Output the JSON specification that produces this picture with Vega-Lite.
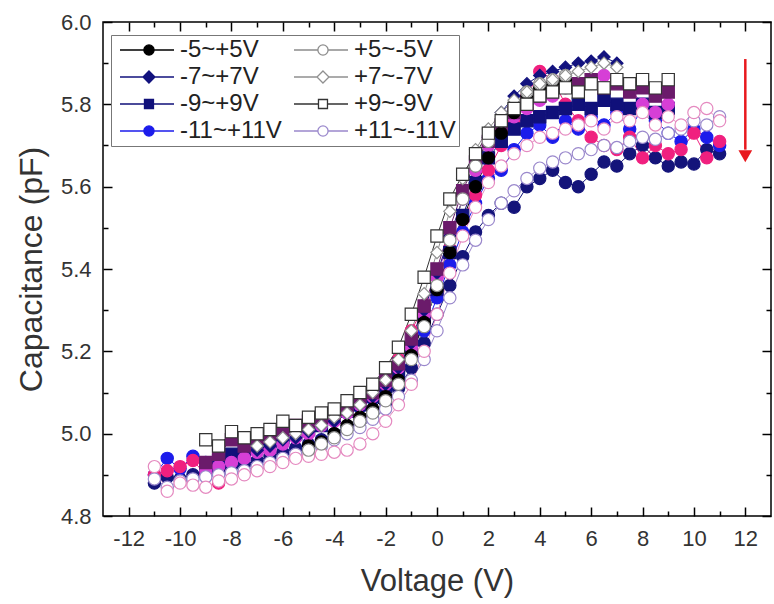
{
"$schema": "https://vega.github.io/schema/vega-lite/v6.json",
"width": 668, "height": 494,
"autosize": {"type": "none"},
"padding": {"left": 103, "top": 22, "right": 3, "bottom": 88},
"background": "white",
"config": {
  "view": {"stroke": "#000", "strokeWidth": 1.5},
  "font": "Liberation Sans",
  "axis": {"labelFont": "Liberation Sans", "labelFontSize": 22, "labelColor": "#333", "titleFont": "Liberation Sans", "titleFontSize": 31, "titleFontWeight": "normal", "titleColor": "#333", "tickColor": "#000", "tickWidth": 1.5, "domain": false, "grid": false},
  "legend": {"orient": "none", "legendX": 8, "legendY": 13, "direction": "horizontal", "columns": 2, "gridAlign": "none", "columnPadding": 6, "rowPadding": 3, "padding": 3, "strokeColor": "#777", "fillColor": "white", "labelFont": "Liberation Sans", "labelFontSize": 24, "labelColor": "#222", "labelOffset": 42, "symbolSize": 144, "symbolStrokeWidth": 1.3}
},
"datasets": {
  "cv": [
{"s":"x1","v":-11,"c":4.88},{"s":"x1","v":-10.5,"c":4.895},{"s":"x1","v":-10,"c":4.89},{"s":"x1","v":-9.5,"c":4.9},{"s":"x1","v":-9,"c":4.905},{"s":"x1","v":-8.5,"c":4.91},{"s":"x1","v":-8,"c":4.92},{"s":"x1","v":-7.5,"c":4.925},{"s":"x1","v":-7,"c":4.935},{"s":"x1","v":-6.5,"c":4.945},{"s":"x1","v":-6,"c":4.955},{"s":"x1","v":-5.5,"c":4.965},{"s":"x1","v":-5,"c":4.975},{"s":"x1","v":-4.5,"c":4.985},{"s":"x1","v":-4,"c":5.0},{"s":"x1","v":-3.5,"c":5.015},{"s":"x1","v":-3,"c":5.03},{"s":"x1","v":-2.5,"c":5.05},{"s":"x1","v":-2,"c":5.075},{"s":"x1","v":-1.5,"c":5.11},{"s":"x1","v":-1,"c":5.16},{"s":"x1","v":-0.5,"c":5.22},{"s":"x1","v":0,"c":5.29},{"s":"x1","v":0.5,"c":5.36},{"s":"x1","v":1,"c":5.43},{"s":"x1","v":1.5,"c":5.49},{"s":"x1","v":2,"c":5.53},{"s":"x1","v":2.5,"c":5.56},{"s":"x1","v":3,"c":5.55},{"s":"x1","v":3.5,"c":5.6},{"s":"x1","v":4,"c":5.62},{"s":"x1","v":4.5,"c":5.64},{"s":"x1","v":5,"c":5.61},{"s":"x1","v":5.5,"c":5.6},{"s":"x1","v":6,"c":5.63},{"s":"x1","v":6.5,"c":5.66},{"s":"x1","v":7,"c":5.65},{"s":"x1","v":7.5,"c":5.68},{"s":"x1","v":8,"c":5.7},{"s":"x1","v":8.5,"c":5.67},{"s":"x1","v":9,"c":5.65},{"s":"x1","v":9.5,"c":5.66},{"s":"x1","v":10,"c":5.655},{"s":"x1","v":10.5,"c":5.69},{"s":"x1","v":11,"c":5.68},
{"s":"-11~+11V","v":-11,"c":4.9},{"s":"-11~+11V","v":-10.5,"c":4.94},{"s":"-11~+11V","v":-10,"c":4.915},{"s":"-11~+11V","v":-9.5,"c":4.945},{"s":"-11~+11V","v":-9,"c":4.93},{"s":"-11~+11V","v":-8.5,"c":4.935},{"s":"-11~+11V","v":-8,"c":4.945},{"s":"-11~+11V","v":-7.5,"c":4.955},{"s":"-11~+11V","v":-7,"c":4.965},{"s":"-11~+11V","v":-6.5,"c":4.975},{"s":"-11~+11V","v":-6,"c":4.985},{"s":"-11~+11V","v":-5.5,"c":4.995},{"s":"-11~+11V","v":-5,"c":5.01},{"s":"-11~+11V","v":-4.5,"c":5.02},{"s":"-11~+11V","v":-4,"c":5.035},{"s":"-11~+11V","v":-3.5,"c":5.05},{"s":"-11~+11V","v":-3,"c":5.065},{"s":"-11~+11V","v":-2.5,"c":5.085},{"s":"-11~+11V","v":-2,"c":5.11},{"s":"-11~+11V","v":-1.5,"c":5.14},{"s":"-11~+11V","v":-1,"c":5.19},{"s":"-11~+11V","v":-0.5,"c":5.25},{"s":"-11~+11V","v":0,"c":5.33},{"s":"-11~+11V","v":0.5,"c":5.41},{"s":"-11~+11V","v":1,"c":5.49},{"s":"-11~+11V","v":1.5,"c":5.56},{"s":"-11~+11V","v":2,"c":5.62},{"s":"-11~+11V","v":2.5,"c":5.64},{"s":"-11~+11V","v":3,"c":5.69},{"s":"-11~+11V","v":3.5,"c":5.73},{"s":"-11~+11V","v":4,"c":5.75},{"s":"-11~+11V","v":4.5,"c":5.72},{"s":"-11~+11V","v":5,"c":5.76},{"s":"-11~+11V","v":5.5,"c":5.74},{"s":"-11~+11V","v":6,"c":5.77},{"s":"-11~+11V","v":6.5,"c":5.75},{"s":"-11~+11V","v":7,"c":5.78},{"s":"-11~+11V","v":7.5,"c":5.74},{"s":"-11~+11V","v":8,"c":5.79},{"s":"-11~+11V","v":8.5,"c":5.76},{"s":"-11~+11V","v":9,"c":5.73},{"s":"-11~+11V","v":9.5,"c":5.71},{"s":"-11~+11V","v":10,"c":5.74},{"s":"-11~+11V","v":10.5,"c":5.72},{"s":"-11~+11V","v":11,"c":5.7},
{"s":"x2","v":-11,"c":4.9},{"s":"x2","v":-10.5,"c":4.91},{"s":"x2","v":-10,"c":4.92},{"s":"x2","v":-9.5,"c":4.935},{"s":"x2","v":-9,"c":4.9},{"s":"x2","v":-8.5,"c":4.88},{"s":"x2","v":-8,"c":4.94},{"s":"x2","v":-7.5,"c":4.95},{"s":"x2","v":-7,"c":4.96},{"s":"x2","v":-6.5,"c":4.975},{"s":"x2","v":-6,"c":4.99},{"s":"x2","v":-5.5,"c":5.0},{"s":"x2","v":-5,"c":5.015},{"s":"x2","v":-4.5,"c":5.025},{"s":"x2","v":-4,"c":5.04},{"s":"x2","v":-3.5,"c":5.06},{"s":"x2","v":-3,"c":5.075},{"s":"x2","v":-2.5,"c":5.1},{"s":"x2","v":-2,"c":5.13},{"s":"x2","v":-1.5,"c":5.18},{"s":"x2","v":-1,"c":5.25},{"s":"x2","v":-0.5,"c":5.31},{"s":"x2","v":0,"c":5.38},{"s":"x2","v":0.5,"c":5.45},{"s":"x2","v":1,"c":5.52},{"s":"x2","v":1.5,"c":5.58},{"s":"x2","v":2,"c":5.64},{"s":"x2","v":2.5,"c":5.7},{"s":"x2","v":3,"c":5.76},{"s":"x2","v":3.5,"c":5.82},{"s":"x2","v":4,"c":5.88},{"s":"x2","v":4.5,"c":5.86},{"s":"x2","v":5,"c":5.8},{"s":"x2","v":5.5,"c":5.76},{"s":"x2","v":6,"c":5.72},{"s":"x2","v":6.5,"c":5.7},{"s":"x2","v":7,"c":5.69},{"s":"x2","v":7.5,"c":5.72},{"s":"x2","v":8,"c":5.67},{"s":"x2","v":8.5,"c":5.7},{"s":"x2","v":9,"c":5.68},{"s":"x2","v":9.5,"c":5.69},{"s":"x2","v":10,"c":5.73},{"s":"x2","v":10.5,"c":5.67},{"s":"x2","v":11,"c":5.71},
{"s":"-9~+9V","v":-9,"c":4.92},{"s":"-9~+9V","v":-8.5,"c":4.935},{"s":"-9~+9V","v":-8,"c":4.95},{"s":"-9~+9V","v":-7.5,"c":4.96},{"s":"-9~+9V","v":-7,"c":4.97},{"s":"-9~+9V","v":-6.5,"c":4.98},{"s":"-9~+9V","v":-6,"c":4.99},{"s":"-9~+9V","v":-5.5,"c":5.0},{"s":"-9~+9V","v":-5,"c":5.01},{"s":"-9~+9V","v":-4.5,"c":5.02},{"s":"-9~+9V","v":-4,"c":5.04},{"s":"-9~+9V","v":-3.5,"c":5.055},{"s":"-9~+9V","v":-3,"c":5.07},{"s":"-9~+9V","v":-2.5,"c":5.09},{"s":"-9~+9V","v":-2,"c":5.115},{"s":"-9~+9V","v":-1.5,"c":5.15},{"s":"-9~+9V","v":-1,"c":5.2},{"s":"-9~+9V","v":-0.5,"c":5.27},{"s":"-9~+9V","v":0,"c":5.35},{"s":"-9~+9V","v":0.5,"c":5.44},{"s":"-9~+9V","v":1,"c":5.53},{"s":"-9~+9V","v":1.5,"c":5.61},{"s":"-9~+9V","v":2,"c":5.67},{"s":"-9~+9V","v":2.5,"c":5.71},{"s":"-9~+9V","v":3,"c":5.74},{"s":"-9~+9V","v":3.5,"c":5.76},{"s":"-9~+9V","v":4,"c":5.77},{"s":"-9~+9V","v":4.5,"c":5.78},{"s":"-9~+9V","v":5,"c":5.79},{"s":"-9~+9V","v":5.5,"c":5.8},{"s":"-9~+9V","v":6,"c":5.79},{"s":"-9~+9V","v":6.5,"c":5.81},{"s":"-9~+9V","v":7,"c":5.8},{"s":"-9~+9V","v":7.5,"c":5.79},{"s":"-9~+9V","v":8,"c":5.8},{"s":"-9~+9V","v":8.5,"c":5.78},{"s":"-9~+9V","v":9,"c":5.79},
{"s":"x3","v":-9,"c":4.91},{"s":"x3","v":-8.5,"c":4.92},{"s":"x3","v":-8,"c":4.93},{"s":"x3","v":-7.5,"c":4.94},{"s":"x3","v":-7,"c":4.955},{"s":"x3","v":-6.5,"c":4.96},{"s":"x3","v":-6,"c":4.975},{"s":"x3","v":-5.5,"c":4.99},{"s":"x3","v":-5,"c":5.0},{"s":"x3","v":-4.5,"c":5.02},{"s":"x3","v":-4,"c":5.03},{"s":"x3","v":-3.5,"c":5.05},{"s":"x3","v":-3,"c":5.07},{"s":"x3","v":-2.5,"c":5.09},{"s":"x3","v":-2,"c":5.12},{"s":"x3","v":-1.5,"c":5.16},{"s":"x3","v":-1,"c":5.21},{"s":"x3","v":-0.5,"c":5.29},{"s":"x3","v":0,"c":5.38},{"s":"x3","v":0.5,"c":5.48},{"s":"x3","v":1,"c":5.57},{"s":"x3","v":1.5,"c":5.64},{"s":"x3","v":2,"c":5.7},{"s":"x3","v":2.5,"c":5.74},{"s":"x3","v":3,"c":5.77},{"s":"x3","v":3.5,"c":5.79},{"s":"x3","v":4,"c":5.81},{"s":"x3","v":4.5,"c":5.82},{"s":"x3","v":5,"c":5.84},{"s":"x3","v":5.5,"c":5.85},{"s":"x3","v":6,"c":5.86},{"s":"x3","v":6.5,"c":5.87},{"s":"x3","v":7,"c":5.86},{"s":"x3","v":7.5,"c":5.84},{"s":"x3","v":8,"c":5.8},{"s":"x3","v":8.5,"c":5.78},{"s":"x3","v":9,"c":5.8},
{"s":"-7~+7V","v":-7,"c":4.96},{"s":"-7~+7V","v":-6.5,"c":4.97},{"s":"-7~+7V","v":-6,"c":4.985},{"s":"-7~+7V","v":-5.5,"c":4.99},{"s":"-7~+7V","v":-5,"c":5.005},{"s":"-7~+7V","v":-4.5,"c":5.02},{"s":"-7~+7V","v":-4,"c":5.03},{"s":"-7~+7V","v":-3.5,"c":5.05},{"s":"-7~+7V","v":-3,"c":5.07},{"s":"-7~+7V","v":-2.5,"c":5.09},{"s":"-7~+7V","v":-2,"c":5.12},{"s":"-7~+7V","v":-1.5,"c":5.16},{"s":"-7~+7V","v":-1,"c":5.22},{"s":"-7~+7V","v":-0.5,"c":5.3},{"s":"-7~+7V","v":0,"c":5.39},{"s":"-7~+7V","v":0.5,"c":5.48},{"s":"-7~+7V","v":1,"c":5.57},{"s":"-7~+7V","v":1.5,"c":5.65},{"s":"-7~+7V","v":2,"c":5.72},{"s":"-7~+7V","v":2.5,"c":5.78},{"s":"-7~+7V","v":3,"c":5.82},{"s":"-7~+7V","v":3.5,"c":5.85},{"s":"-7~+7V","v":4,"c":5.87},{"s":"-7~+7V","v":4.5,"c":5.88},{"s":"-7~+7V","v":5,"c":5.89},{"s":"-7~+7V","v":5.5,"c":5.9},{"s":"-7~+7V","v":6,"c":5.905},{"s":"-7~+7V","v":6.5,"c":5.915},{"s":"-7~+7V","v":7,"c":5.9},
{"s":"x4","v":-9,"c":4.93},{"s":"x4","v":-8.5,"c":4.95},{"s":"x4","v":-8,"c":4.985},{"s":"x4","v":-7.5,"c":4.97},{"s":"x4","v":-7,"c":4.99},{"s":"x4","v":-6.5,"c":5.0},{"s":"x4","v":-6,"c":5.01},{"s":"x4","v":-5.5,"c":5.02},{"s":"x4","v":-5,"c":5.03},{"s":"x4","v":-4.5,"c":5.04},{"s":"x4","v":-4,"c":5.05},{"s":"x4","v":-3.5,"c":5.06},{"s":"x4","v":-3,"c":5.08},{"s":"x4","v":-2.5,"c":5.1},{"s":"x4","v":-2,"c":5.13},{"s":"x4","v":-1.5,"c":5.17},{"s":"x4","v":-1,"c":5.23},{"s":"x4","v":-0.5,"c":5.31},{"s":"x4","v":0,"c":5.4},{"s":"x4","v":0.5,"c":5.5},{"s":"x4","v":1,"c":5.59},{"s":"x4","v":1.5,"c":5.66},{"s":"x4","v":2,"c":5.71},{"s":"x4","v":2.5,"c":5.75},{"s":"x4","v":3,"c":5.78},{"s":"x4","v":3.5,"c":5.8},{"s":"x4","v":4,"c":5.82},{"s":"x4","v":4.5,"c":5.84},{"s":"x4","v":5,"c":5.85},{"s":"x4","v":5.5,"c":5.85},{"s":"x4","v":6,"c":5.86},{"s":"x4","v":6.5,"c":5.84},{"s":"x4","v":7,"c":5.85},{"s":"x4","v":7.5,"c":5.83},{"s":"x4","v":8,"c":5.84},{"s":"x4","v":8.5,"c":5.82},{"s":"x4","v":9,"c":5.83},
{"s":"-5~+5V","v":-5,"c":4.97},{"s":"-5~+5V","v":-4.5,"c":4.98},{"s":"-5~+5V","v":-4,"c":5.0},{"s":"-5~+5V","v":-3.5,"c":5.02},{"s":"-5~+5V","v":-3,"c":5.04},{"s":"-5~+5V","v":-2.5,"c":5.06},{"s":"-5~+5V","v":-2,"c":5.09},{"s":"-5~+5V","v":-1.5,"c":5.13},{"s":"-5~+5V","v":-1,"c":5.19},{"s":"-5~+5V","v":-0.5,"c":5.27},{"s":"-5~+5V","v":0,"c":5.35},{"s":"-5~+5V","v":0.5,"c":5.44},{"s":"-5~+5V","v":1,"c":5.52},{"s":"-5~+5V","v":1.5,"c":5.6},{"s":"-5~+5V","v":2,"c":5.67},{"s":"-5~+5V","v":2.5,"c":5.73},{"s":"-5~+5V","v":3,"c":5.78},{"s":"-5~+5V","v":3.5,"c":5.82},{"s":"-5~+5V","v":4,"c":5.84},{"s":"-5~+5V","v":4.5,"c":5.85},{"s":"-5~+5V","v":5,"c":5.86},
{"s":"+11~-11V","v":-11,"c":4.89},{"s":"+11~-11V","v":-10.5,"c":4.87},{"s":"+11~-11V","v":-10,"c":4.885},{"s":"+11~-11V","v":-9.5,"c":4.89},{"s":"+11~-11V","v":-9,"c":4.895},{"s":"+11~-11V","v":-8.5,"c":4.9},{"s":"+11~-11V","v":-8,"c":4.905},{"s":"+11~-11V","v":-7.5,"c":4.91},{"s":"+11~-11V","v":-7,"c":4.92},{"s":"+11~-11V","v":-6.5,"c":4.93},{"s":"+11~-11V","v":-6,"c":4.94},{"s":"+11~-11V","v":-5.5,"c":4.95},{"s":"+11~-11V","v":-5,"c":4.96},{"s":"+11~-11V","v":-4.5,"c":4.97},{"s":"+11~-11V","v":-4,"c":4.985},{"s":"+11~-11V","v":-3.5,"c":5.0},{"s":"+11~-11V","v":-3,"c":5.015},{"s":"+11~-11V","v":-2.5,"c":5.035},{"s":"+11~-11V","v":-2,"c":5.06},{"s":"+11~-11V","v":-1.5,"c":5.09},{"s":"+11~-11V","v":-1,"c":5.13},{"s":"+11~-11V","v":-0.5,"c":5.18},{"s":"+11~-11V","v":0,"c":5.25},{"s":"+11~-11V","v":0.5,"c":5.33},{"s":"+11~-11V","v":1,"c":5.41},{"s":"+11~-11V","v":1.5,"c":5.47},{"s":"+11~-11V","v":2,"c":5.52},{"s":"+11~-11V","v":2.5,"c":5.56},{"s":"+11~-11V","v":3,"c":5.59},{"s":"+11~-11V","v":3.5,"c":5.62},{"s":"+11~-11V","v":4,"c":5.645},{"s":"+11~-11V","v":4.5,"c":5.66},{"s":"+11~-11V","v":5,"c":5.67},{"s":"+11~-11V","v":5.5,"c":5.68},{"s":"+11~-11V","v":6,"c":5.69},{"s":"+11~-11V","v":6.5,"c":5.7},{"s":"+11~-11V","v":7,"c":5.695},{"s":"+11~-11V","v":7.5,"c":5.71},{"s":"+11~-11V","v":8,"c":5.72},{"s":"+11~-11V","v":8.5,"c":5.715},{"s":"+11~-11V","v":9,"c":5.73},{"s":"+11~-11V","v":9.5,"c":5.74},{"s":"+11~-11V","v":10,"c":5.76},{"s":"+11~-11V","v":10.5,"c":5.75},{"s":"+11~-11V","v":11,"c":5.77},
{"s":"x5","v":-11,"c":4.92},{"s":"x5","v":-10.5,"c":4.86},{"s":"x5","v":-10,"c":4.88},{"s":"x5","v":-9.5,"c":4.875},{"s":"x5","v":-9,"c":4.87},{"s":"x5","v":-8.5,"c":4.885},{"s":"x5","v":-8,"c":4.89},{"s":"x5","v":-7.5,"c":4.9},{"s":"x5","v":-7,"c":4.91},{"s":"x5","v":-6.5,"c":4.92},{"s":"x5","v":-6,"c":4.93},{"s":"x5","v":-5.5,"c":4.94},{"s":"x5","v":-5,"c":4.945},{"s":"x5","v":-4.5,"c":4.95},{"s":"x5","v":-4,"c":4.955},{"s":"x5","v":-3.5,"c":4.96},{"s":"x5","v":-3,"c":4.975},{"s":"x5","v":-2.5,"c":5.0},{"s":"x5","v":-2,"c":5.03},{"s":"x5","v":-1.5,"c":5.07},{"s":"x5","v":-1,"c":5.12},{"s":"x5","v":-0.5,"c":5.2},{"s":"x5","v":0,"c":5.29},{"s":"x5","v":0.5,"c":5.39},{"s":"x5","v":1,"c":5.48},{"s":"x5","v":1.5,"c":5.55},{"s":"x5","v":2,"c":5.61},{"s":"x5","v":2.5,"c":5.65},{"s":"x5","v":3,"c":5.68},{"s":"x5","v":3.5,"c":5.7},{"s":"x5","v":4,"c":5.72},{"s":"x5","v":4.5,"c":5.73},{"s":"x5","v":5,"c":5.74},{"s":"x5","v":5.5,"c":5.75},{"s":"x5","v":6,"c":5.76},{"s":"x5","v":6.5,"c":5.74},{"s":"x5","v":7,"c":5.77},{"s":"x5","v":7.5,"c":5.76},{"s":"x5","v":8,"c":5.78},{"s":"x5","v":8.5,"c":5.75},{"s":"x5","v":9,"c":5.77},{"s":"x5","v":9.5,"c":5.75},{"s":"x5","v":10,"c":5.78},{"s":"x5","v":10.5,"c":5.79},{"s":"x5","v":11,"c":5.76},
{"s":"+5~-5V","v":-5,"c":4.96},{"s":"+5~-5V","v":-4.5,"c":4.975},{"s":"+5~-5V","v":-4,"c":4.99},{"s":"+5~-5V","v":-3.5,"c":5.01},{"s":"+5~-5V","v":-3,"c":5.03},{"s":"+5~-5V","v":-2.5,"c":5.05},{"s":"+5~-5V","v":-2,"c":5.08},{"s":"+5~-5V","v":-1.5,"c":5.12},{"s":"+5~-5V","v":-1,"c":5.18},{"s":"+5~-5V","v":-0.5,"c":5.26},{"s":"+5~-5V","v":0,"c":5.36},{"s":"+5~-5V","v":0.5,"c":5.47},{"s":"+5~-5V","v":1,"c":5.57},{"s":"+5~-5V","v":1.5,"c":5.65},{"s":"+5~-5V","v":2,"c":5.71},{"s":"+5~-5V","v":2.5,"c":5.76},{"s":"+5~-5V","v":3,"c":5.8},{"s":"+5~-5V","v":3.5,"c":5.83},{"s":"+5~-5V","v":4,"c":5.85},{"s":"+5~-5V","v":4.5,"c":5.86},{"s":"+5~-5V","v":5,"c":5.87},
{"s":"+7~-7V","v":-7,"c":4.97},{"s":"+7~-7V","v":-6.5,"c":4.98},{"s":"+7~-7V","v":-6,"c":4.99},{"s":"+7~-7V","v":-5.5,"c":5.0},{"s":"+7~-7V","v":-5,"c":5.01},{"s":"+7~-7V","v":-4.5,"c":5.02},{"s":"+7~-7V","v":-4,"c":5.04},{"s":"+7~-7V","v":-3.5,"c":5.05},{"s":"+7~-7V","v":-3,"c":5.07},{"s":"+7~-7V","v":-2.5,"c":5.1},{"s":"+7~-7V","v":-2,"c":5.13},{"s":"+7~-7V","v":-1.5,"c":5.18},{"s":"+7~-7V","v":-1,"c":5.25},{"s":"+7~-7V","v":-0.5,"c":5.34},{"s":"+7~-7V","v":0,"c":5.44},{"s":"+7~-7V","v":0.5,"c":5.54},{"s":"+7~-7V","v":1,"c":5.62},{"s":"+7~-7V","v":1.5,"c":5.69},{"s":"+7~-7V","v":2,"c":5.74},{"s":"+7~-7V","v":2.5,"c":5.78},{"s":"+7~-7V","v":3,"c":5.81},{"s":"+7~-7V","v":3.5,"c":5.83},{"s":"+7~-7V","v":4,"c":5.85},{"s":"+7~-7V","v":4.5,"c":5.86},{"s":"+7~-7V","v":5,"c":5.87},{"s":"+7~-7V","v":5.5,"c":5.88},{"s":"+7~-7V","v":6,"c":5.89},{"s":"+7~-7V","v":6.5,"c":5.9},{"s":"+7~-7V","v":7,"c":5.89},
{"s":"+9~-9V","v":-9,"c":4.985},{"s":"+9~-9V","v":-8.5,"c":4.97},{"s":"+9~-9V","v":-8,"c":5.005},{"s":"+9~-9V","v":-7.5,"c":4.99},{"s":"+9~-9V","v":-7,"c":5.0},{"s":"+9~-9V","v":-6.5,"c":5.01},{"s":"+9~-9V","v":-6,"c":5.03},{"s":"+9~-9V","v":-5.5,"c":5.02},{"s":"+9~-9V","v":-5,"c":5.04},{"s":"+9~-9V","v":-4.5,"c":5.05},{"s":"+9~-9V","v":-4,"c":5.06},{"s":"+9~-9V","v":-3.5,"c":5.08},{"s":"+9~-9V","v":-3,"c":5.1},{"s":"+9~-9V","v":-2.5,"c":5.12},{"s":"+9~-9V","v":-2,"c":5.16},{"s":"+9~-9V","v":-1.5,"c":5.21},{"s":"+9~-9V","v":-1,"c":5.29},{"s":"+9~-9V","v":-0.5,"c":5.38},{"s":"+9~-9V","v":0,"c":5.48},{"s":"+9~-9V","v":0.5,"c":5.57},{"s":"+9~-9V","v":1,"c":5.63},{"s":"+9~-9V","v":1.5,"c":5.68},{"s":"+9~-9V","v":2,"c":5.73},{"s":"+9~-9V","v":2.5,"c":5.76},{"s":"+9~-9V","v":3,"c":5.79},{"s":"+9~-9V","v":3.5,"c":5.8},{"s":"+9~-9V","v":4,"c":5.82},{"s":"+9~-9V","v":4.5,"c":5.83},{"s":"+9~-9V","v":5,"c":5.84},{"s":"+9~-9V","v":5.5,"c":5.83},{"s":"+9~-9V","v":6,"c":5.85},{"s":"+9~-9V","v":6.5,"c":5.84},{"s":"+9~-9V","v":7,"c":5.86},{"s":"+9~-9V","v":7.5,"c":5.85},{"s":"+9~-9V","v":8,"c":5.86},{"s":"+9~-9V","v":8.5,"c":5.84},{"s":"+9~-9V","v":9,"c":5.86}
  ],
  "leg": [{"s":"-5~+5V"},{"s":"+5~-5V"},{"s":"-7~+7V"},{"s":"+7~-7V"},{"s":"-9~+9V"},{"s":"+9~-9V"},{"s":"-11~+11V"},{"s":"+11~-11V"}],
  "arr": [{"v": 12, "c1": 5.91, "c2": 5.69, "c3": 5.674}]
},
"resolve": {"scale": {"stroke": "independent", "fill": "independent", "shape": "independent"}, "axis": {"x": "independent", "y": "independent"}},
"layer": [
  {
    "data": {"name": "cv"},
    "encoding": {
      "x": {"field": "v", "type": "quantitative", "scale": {"domain": [-13, 13], "nice": false, "zero": false},
        "axis": {"orient": "bottom", "title": "Voltage (V)", "values": [-12,-11,-10,-9,-8,-7,-6,-5,-4,-3,-2,-1,0,1,2,3,4,5,6,7,8,9,10,11,12],
          "labelExpr": "datum.value % 2 == 0 ? (datum.value < 0 ? '-' + abs(datum.value) : '' + datum.value) : ''",
          "tickSize": {"condition": {"test": "datum.value % 2 == 0", "value": -9}, "value": -5},
          "labelPadding": 21, "titlePadding": 17}},
      "y": {"field": "c", "type": "quantitative", "scale": {"domain": [4.8, 6.0], "nice": false, "zero": false},
        "axis": {"orient": "left", "title": "Capacitance (pF)", "titleFontSize": 32, "values": [4.8,4.9,5.0,5.1,5.2,5.3,5.4,5.5,5.6,5.7,5.8,5.9,6.0],
          "labelExpr": "abs(round(datum.value*10)) % 2 == 0 ? format(datum.value, '.1f') : ''",
          "tickSize": {"condition": {"test": "abs(round(datum.value*10)) % 2 == 0", "value": -9}, "value": -5},
          "labelPadding": 21, "titlePadding": 12}},
      "stroke": {"field": "s", "type": "nominal", "legend": null,
        "scale": {"domain": ["x1","-11~+11V","x2","-9~+9V","x3","-7~+7V","x4","-5~+5V","+11~-11V","x5","+5~-5V","+7~-7V","+9~-9V"],
          "range": ["#14147a","#1c1ceb","#f0207f","#10107a","#d63fd6","#12127e","#6b1b6b","#000000","#9a88cc","#e58ac0","#8c8c8c","#909090","#333333"]}}
    },
    "layer": [
      {"mark": {"type": "line", "strokeWidth": 1}},
      {"mark": {"type": "point", "size": 150, "strokeWidth": 1.2, "opacity": 1},
        "encoding": {
          "fill": {"field": "s", "type": "nominal", "legend": null,
            "scale": {"domain": ["x1","-11~+11V","x2","-9~+9V","x3","-7~+7V","x4","-5~+5V","+11~-11V","x5","+5~-5V","+7~-7V","+9~-9V"],
              "range": ["#14147a","#1c1ceb","#f0207f","#10107a","#d63fd6","#12127e","#6b1b6b","#000000","#ffffff","#ffffff","#ffffff","#ffffff","#ffffff"]}},
          "shape": {"field": "s", "type": "nominal", "legend": null,
            "scale": {"domain": ["x1","-11~+11V","x2","-9~+9V","x3","-7~+7V","x4","-5~+5V","+11~-11V","x5","+5~-5V","+7~-7V","+9~-9V"],
              "range": ["circle","circle","circle","square","circle","diamond","square","circle","circle","circle","circle","diamond","square"]}}
        }}
    ]
  },
  {
    "data": {"name": "leg"},
    "transform": [{"filter": "false"}],
    "mark": {"type": "point", "size": 144, "strokeWidth": 1.3, "opacity": 1},
    "encoding": {
      "shape": {"field": "s", "type": "nominal", "legend": {"title": null, "gridAlign": "none", "columns": 2, "direction": "horizontal"},
        "scale": {"domain": ["-5~+5V","+5~-5V","-7~+7V","+7~-7V","-9~+9V","+9~-9V","-11~+11V","+11~-11V"],
          "range": [
            "M-1,0H2.98M4.68,0H8M4.68,0A0.85,0.85,0,1,1,2.98,0A0.85,0.85,0,1,1,4.68,0Z",
            "M-1,0H2.98M4.68,0H8M4.68,0A0.85,0.85,0,1,1,2.98,0A0.85,0.85,0,1,1,4.68,0Z",
            "M-1,0H2.83M4.83,0H8M3.83,-1L4.83,0L3.83,1L2.83,0Z",
            "M-1,0H2.83M4.83,0H8M3.83,-1L4.83,0L3.83,1L2.83,0Z",
            "M-1,0H3.08M4.58,0H8M3.08,-0.75H4.58V0.75H3.08Z",
            "M-1,0H3.08M4.58,0H8M3.08,-0.75H4.58V0.75H3.08Z",
            "M-1,0H2.98M4.68,0H8M4.68,0A0.85,0.85,0,1,1,2.98,0A0.85,0.85,0,1,1,4.68,0Z",
            "M-1,0H2.98M4.68,0H8M4.68,0A0.85,0.85,0,1,1,2.98,0A0.85,0.85,0,1,1,4.68,0Z"]}},
      "stroke": {"field": "s", "type": "nominal", "legend": {"title": null, "gridAlign": "none", "columns": 2, "direction": "horizontal"},
        "scale": {"domain": ["-5~+5V","+5~-5V","-7~+7V","+7~-7V","-9~+9V","+9~-9V","-11~+11V","+11~-11V"],
          "range": ["#000000","#8c8c8c","#12127e","#909090","#10107a","#333333","#1c1ceb","#9a88cc"]}},
      "fill": {"field": "s", "type": "nominal", "legend": {"title": null, "gridAlign": "none", "columns": 2, "direction": "horizontal"},
        "scale": {"domain": ["-5~+5V","+5~-5V","-7~+7V","+7~-7V","-9~+9V","+9~-9V","-11~+11V","+11~-11V"],
          "range": ["#000000","#ffffff","#12127e","#ffffff","#10107a","#ffffff","#1c1ceb","#ffffff"]}}
    }
  },
  {
    "data": {"name": "arr"},
    "encoding": {
      "x": {"field": "v", "type": "quantitative", "scale": {"domain": [-13, 13], "nice": false, "zero": false},
        "axis": {"orient": "top", "title": null, "labels": false, "values": [-12,-11,-10,-9,-8,-7,-6,-5,-4,-3,-2,-1,0,1,2,3,4,5,6,7,8,9,10,11,12],
          "tickSize": {"condition": {"test": "datum.value % 2 == 0", "value": -9}, "value": -5}}}
    },
    "layer": [
      {"mark": {"type": "rule", "color": "#e8191e", "strokeWidth": 2.5},
        "encoding": {
          "y": {"field": "c1", "type": "quantitative", "scale": {"domain": [4.8, 6.0], "nice": false, "zero": false},
            "axis": {"orient": "right", "title": null, "labels": false, "values": [4.8,4.9,5.0,5.1,5.2,5.3,5.4,5.5,5.6,5.7,5.8,5.9,6.0],
              "tickSize": {"condition": {"test": "abs(round(datum.value*10)) % 2 == 0", "value": -9}, "value": -5}}},
          "y2": {"field": "c2"}
        }},
      {"mark": {"type": "point", "shape": "triangle-down", "filled": true, "color": "#e8191e", "size": 190, "opacity": 1},
        "encoding": {
          "y": {"field": "c3", "type": "quantitative", "scale": {"domain": [4.8, 6.0], "nice": false, "zero": false},
            "axis": {"orient": "right", "title": null, "labels": false, "values": [4.8,4.9,5.0,5.1,5.2,5.3,5.4,5.5,5.6,5.7,5.8,5.9,6.0],
              "tickSize": {"condition": {"test": "abs(round(datum.value*10)) % 2 == 0", "value": -9}, "value": -5}}}
        }}
    ]
  }
]
}
